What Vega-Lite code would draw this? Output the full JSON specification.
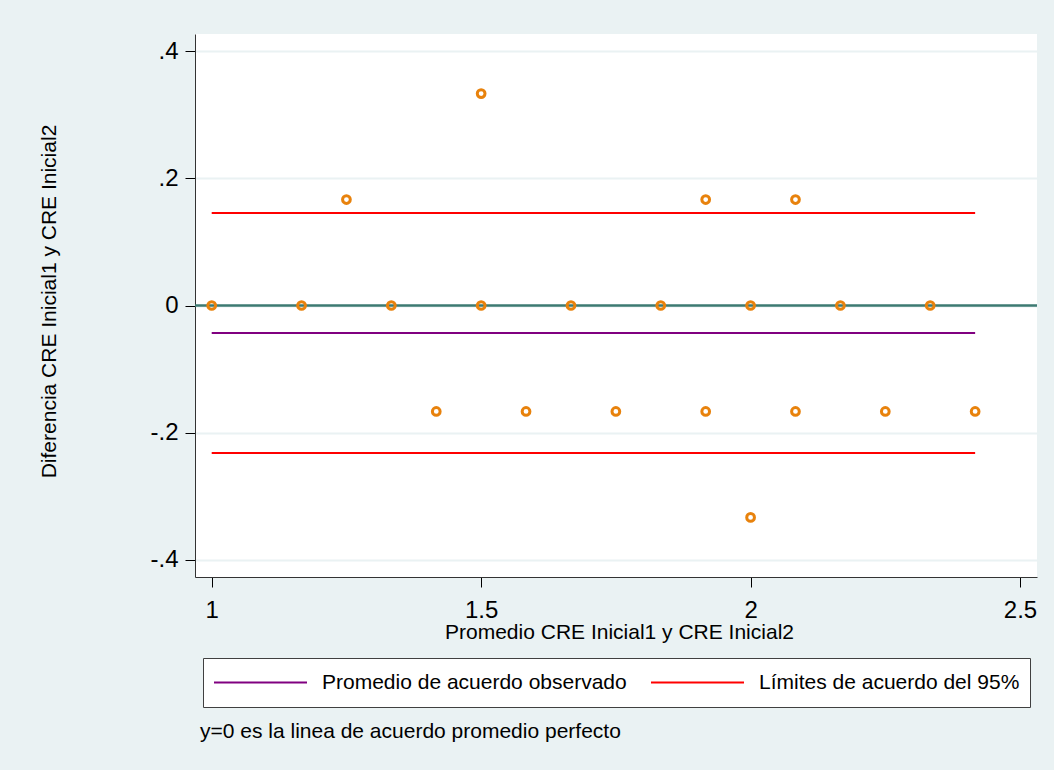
{
  "$schema": "https://vega.github.io/schema/vega-lite/v6.json",
  "width": 842,
  "height": 543,
  "autosize": {"type": "none"},
  "padding": {"left": 195, "top": 34, "right": 17, "bottom": 193},
  "background": "#EAF2F3",
  "title": {
    "text": "y=0 es la linea de acuerdo promedio perfecto",
    "orient": "bottom",
    "anchor": "start",
    "frame": "group",
    "fontSize": 21,
    "fontWeight": "normal",
    "font": "Liberation Sans",
    "color": "#000000",
    "offset": 13,
    "dx": 5
  },
  "config": {
    "font": "Liberation Sans",
    "view": {"stroke": null, "fill": "#FFFFFF"},
    "axis": {
      "labelFont": "Liberation Sans",
      "titleFont": "Liberation Sans",
      "labelColor": "#000000",
      "titleColor": "#000000",
      "titleFontWeight": "normal",
      "domainColor": "#333333",
      "domainWidth": 1,
      "tickColor": "#000000",
      "tickSize": 10,
      "tickWidth": 1
    }
  },
  "layer": [
    {
      "data": {"values": [{"z": 0}]},
      "mark": {"type": "rule", "color": "#3D7A72", "strokeWidth": 2.5},
      "encoding": {
        "y": {"field": "z", "type": "quantitative", "scale": {"domain": [-0.427, 0.427], "nice": false, "zero": false}}
      }
    },
    {
      "data": {"values": [
        {"serie": "Promedio de acuerdo observado", "y": -0.0433, "x1": 1, "x2": 2.4167},
        {"serie": "Límites de acuerdo del 95%", "y": 0.1454, "x1": 1, "x2": 2.4167},
        {"serie": "Límites de acuerdo del 95%", "y": -0.2319, "x1": 1, "x2": 2.4167}
      ]},
      "mark": {"type": "rule", "strokeWidth": 2},
      "encoding": {
        "x": {"field": "x1", "type": "quantitative"},
        "x2": {"field": "x2"},
        "y": {"field": "y", "type": "quantitative"},
        "color": {
          "field": "serie",
          "type": "nominal",
          "scale": {"domain": ["Promedio de acuerdo observado", "Límites de acuerdo del 95%"], "range": ["#800080", "#FF0000"]},
          "legend": {
            "title": null,
            "orient": "none",
            "legendX": 8,
            "legendY": 624,
            "direction": "horizontal",
            "symbolType": "stroke",
            "symbolSize": 8649,
            "symbolStrokeWidth": 2,
            "clipHeight": 29,
            "labelFontSize": 21,
            "labelFont": "Liberation Sans",
            "labelColor": "#000000",
            "labelOffset": 14,
            "labelLimit": 0,
            "columnPadding": 23,
            "padding": 10,
            "fillColor": "#FFFFFF",
            "strokeColor": "#404040"
          }
        }
      }
    },
    {
      "data": {"values": [
        {"m": 1, "d": 0}, {"m": 1.1667, "d": 0}, {"m": 1.25, "d": 0.1667}, {"m": 1.3333, "d": 0},
        {"m": 1.4167, "d": -0.1667}, {"m": 1.5, "d": 0.3333}, {"m": 1.5, "d": 0}, {"m": 1.5833, "d": -0.1667},
        {"m": 1.6667, "d": 0}, {"m": 1.75, "d": -0.1667}, {"m": 1.8333, "d": 0}, {"m": 1.9167, "d": 0.1667},
        {"m": 1.9167, "d": -0.1667}, {"m": 2, "d": 0}, {"m": 2, "d": -0.3333}, {"m": 2.0833, "d": 0.1667},
        {"m": 2.0833, "d": -0.1667}, {"m": 2.1667, "d": 0}, {"m": 2.25, "d": -0.1667}, {"m": 2.3333, "d": 0},
        {"m": 2.4167, "d": -0.1667}
      ]},
      "mark": {"type": "point", "shape": "circle", "filled": false, "size": 60, "strokeWidth": 3, "color": "#E8820C", "opacity": 1},
      "encoding": {
        "x": {
          "field": "m", "type": "quantitative",
          "scale": {"domain": [0.969, 2.5315], "nice": false, "zero": false},
          "axis": {
            "title": "Promedio CRE Inicial1 y CRE Inicial2",
            "titleFontSize": 21,
            "titleX": 424,
            "titleY": 61,
            "titleAlign": "center",
            "titleBaseline": "alphabetic",
            "values": [1, 1.5, 2, 2.5],
            "format": "~g",
            "labelFontSize": 24,
            "labelPadding": 11,
            "grid": false
          }
        },
        "y": {
          "field": "d", "type": "quantitative",
          "scale": {"domain": [-0.427, 0.427], "nice": false, "zero": false},
          "axis": {
            "title": "Diferencia CRE Inicial1 y CRE Inicial2",
            "titleFontSize": 21,
            "titleX": -140,
            "titleY": 267,
            "titleAngle": 270,
            "titleAlign": "center",
            "titleBaseline": "alphabetic",
            "values": [-0.4, -0.2, 0, 0.2, 0.4],
            "labelExpr": "datum.value == 0 ? '0' : (datum.value < 0 ? '-' : '') + replace(format(abs(datum.value), '.1f'), '0.', '.')",
            "labelFontSize": 24,
            "labelPadding": 7,
            "grid": true,
            "gridColor": "#EAF2F3",
            "gridWidth": 2
          }
        }
      }
    }
  ]
}
